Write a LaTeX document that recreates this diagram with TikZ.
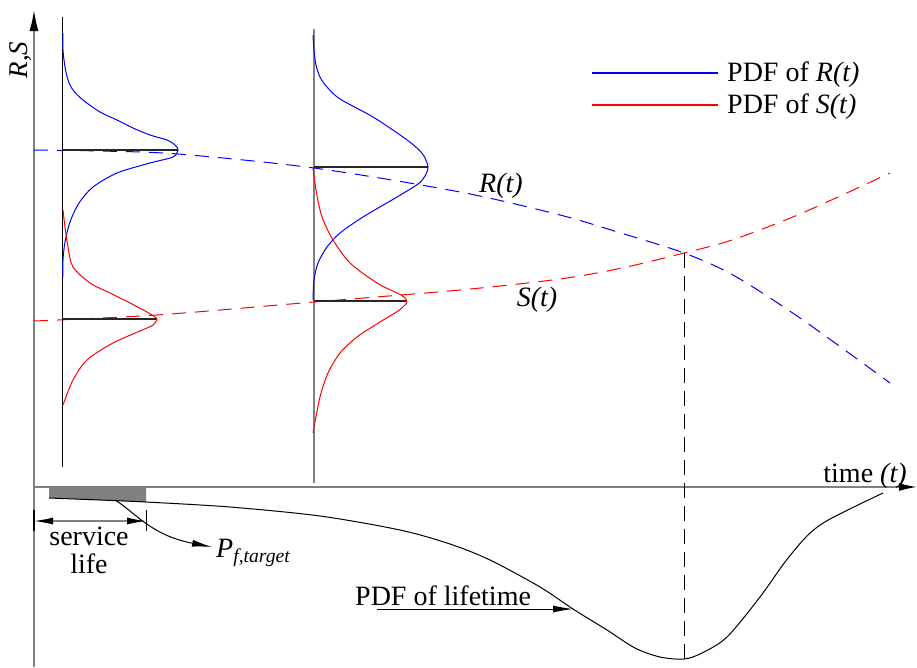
\documentclass[tikz,border=0pt]{standalone}
\usepackage{fontspec}
\setmainfont{Liberation Serif}
\usetikzlibrary{arrows.meta}
\definecolor{legblue}{RGB}{0,0,255}
\definecolor{legred}{RGB}{255,0,0}
\begin{document}
\begin{tikzpicture}[x=1pt,y=-1pt,
  axisline/.style={draw=gray, line width=1.6pt},
  pdfR/.style={draw=blue, line width=1pt},
  pdfS/.style={draw=red, line width=1pt},
  meanline/.style={draw=black!85, line width=1.2pt},
  trendR/.style={draw=blue, line width=1pt, dash pattern=on 14pt off 9pt},
  trendS/.style={draw=red, line width=1pt, dash pattern=on 14pt off 9pt},
  lbl/.style={font=\fontsize{28}{30}\selectfont, inner sep=0pt},
  bigtip/.style={-{Latex[length=21pt,width=9pt,color=black]}},
  dimtip/.style={{Latex[length=19pt,width=7pt,color=black]}-{Latex[length=19pt,width=7pt,color=black]}},
  ptr/.style={draw=black, line width=1pt, -{Latex[length=20pt,width=7pt]}},
]
\useasboundingbox (0,0) rectangle (917,667);

% coordinates
\coordinate (ybot) at (34,667);
\coordinate (ytop) at (34,10);
\coordinate (xorg) at (34,487);
\coordinate (xend) at (917,487);
\coordinate (v1t) at (62,17);
\coordinate (v1b) at (62,467);
\coordinate (v2t) at (314,29);
\coordinate (v2b) at (314,483);
\coordinate (mR1) at (62,150);
\coordinate (pR1) at (178,150);
\coordinate (mS1) at (62,319);
\coordinate (pS1) at (157,319);
\coordinate (mR2) at (314,167);
\coordinate (pR2) at (428,167);
\coordinate (mS2) at (314,301);
\coordinate (pS2) at (407,301);
\coordinate (cross) at (684,253);
\coordinate (lmin) at (684,659);
\coordinate (legRa) at (592,73);
\coordinate (legRb) at (718,73);
\coordinate (legSa) at (592,105);
\coordinate (legSb) at (718,105);
\coordinate (sl0) at (34,521);
\coordinate (sl1) at (146,521);
\coordinate (pfs) at (115,500);
\coordinate (pfe) at (212,547);
\coordinate (lt0) at (377,609);
\coordinate (lt1) at (573,609);

% service life shaded area
\fill[gray] (49,487) -- (146,487) -- (146,502) -- (49,498) -- cycle;

% axes
\draw[axisline,bigtip] (ybot) -- (ytop);
\draw[axisline,-{Latex[length=18pt,width=8pt,color=black]}] (xorg) -- (xend);

% vertical PDF baselines
\draw[black, line width=1pt] (v1t) -- (v1b);
\draw[gray, line width=1.5pt] (v2t) -- (v2b);

% trends
\draw[trendR] plot[smooth] coordinates {(34,150) (100,151) (178,154) (314,168) (460,192) (560,215) (624,234) (684,253) (733,275) (800,318) (890,383)};
\draw[trendS] plot[smooth] coordinates {(34,321) (157,315) (314,302) (460,290) (560,279) (622,268) (684,253) (732,240) (800,214) (890,173)};

% mean lines
\draw[meanline] (mR1) -- (pR1);
\draw[meanline] (mS1) -- (pS1);
\draw[meanline] (mR2) -- (pR2);
\draw[meanline] (mS2) -- (pS2);

% PDFs at t = 0
\draw[pdfR] plot[smooth] coordinates {(63,33) (63,50) (65,67) (68,80) (73,90) (83,100) (100,112) (117,120) (133,128) (150,135) (167,140) (175,145) (178,150) (173,157) (150,163) (117,173) (93,187) (79,203) (70,222) (65,242) (63,260) (63,277)};
\draw[pdfS] plot[smooth] coordinates {(63,210) (65,227) (68,247) (73,267) (90,283) (110,293) (130,303) (147,312) (155,317) (157,320) (153,325) (147,328) (113,343) (87,360) (73,380) (63,405)};

% PDFs at later time
\draw[pdfR] plot[smooth] coordinates {(313,35) (314,50) (316,65) (320,77) (327,87) (340,99) (373,117) (403,137) (417,148) (424,156) (428,167) (425,176) (418,184) (397,197) (363,217) (340,233) (327,247) (318,263) (314,280) (313,300)};
\draw[pdfS] plot[smooth] coordinates {(313,168) (316,190) (320,210) (324,222) (333,240) (350,263) (377,283) (397,293) (404,297) (407,302) (404,306) (398,311) (380,322) (357,337) (340,353) (328,373) (320,397) (313,433)};

% legend lines (drawn as thin filled bars)
\fill[legred] ([yshift=-0.8pt]legSa) rectangle ([yshift=0.8pt]legSb);
\fill[legblue] ([yshift=-0.8pt]legRa) rectangle ([yshift=0.8pt]legRb);

% failure point
\draw[black, line width=1pt, dash pattern=on 15pt off 8pt] (cross) -- (lmin);

% lifetime PDF
\draw[black, line width=1pt] plot[smooth] coordinates {(49,498) (100,500) (146,502) (230,507) (320,516) (400,530) (450,544) (490,560) (540,587) (573,609) (607,630) (635,648) (660,657) (684,659) (702,653) (727,637) (760,597) (785,562) (808,535) (830,519) (883,493)};

% service life dimension
\draw[black, line width=1.2pt] (34,510) -- (34,531);
\draw[black, line width=0.8pt] (146,510) -- (146,531);
\draw[gray, line width=1.2pt, dimtip] (sl0) -- (sl1);

% pointers
\draw[ptr] (pfs) .. controls (135,512) and (150,535) .. (pfe);
\draw[ptr] (lt0) -- (lt1);

% texts
\node[lbl, anchor=base] (sv) at (89,545) {service};
\node[lbl, anchor=base] (lf) at (89,573) {life};
\node[anchor=base west, inner sep=0pt, font=\fontsize{28}{30}\selectfont] (pf) at (216,557) {\textit{P}\textsubscript{\textit{f,target}}};
\node[lbl, anchor=base west] (plt) at (355,605) {PDF of lifetime};
\node[lbl] (tlab) at (865,476) {time \textit{(t)}};
\node[lbl] (rlab) at (501,186) {\textit{R(t)}};
\node[lbl] (slab) at (537,300) {\textit{S(t)}};
\node[lbl, anchor=west] (lgRt) at (727,75) {PDF of \textit{R(t)}};
\node[lbl, anchor=west] (lgSt) at (727,107) {PDF of \textit{S(t)}};
\node[lbl, rotate=90, font=\fontsize{27}{29}\selectfont] (rs) at (21,60) {\textit{R,S}};
\end{tikzpicture}
\end{document}
